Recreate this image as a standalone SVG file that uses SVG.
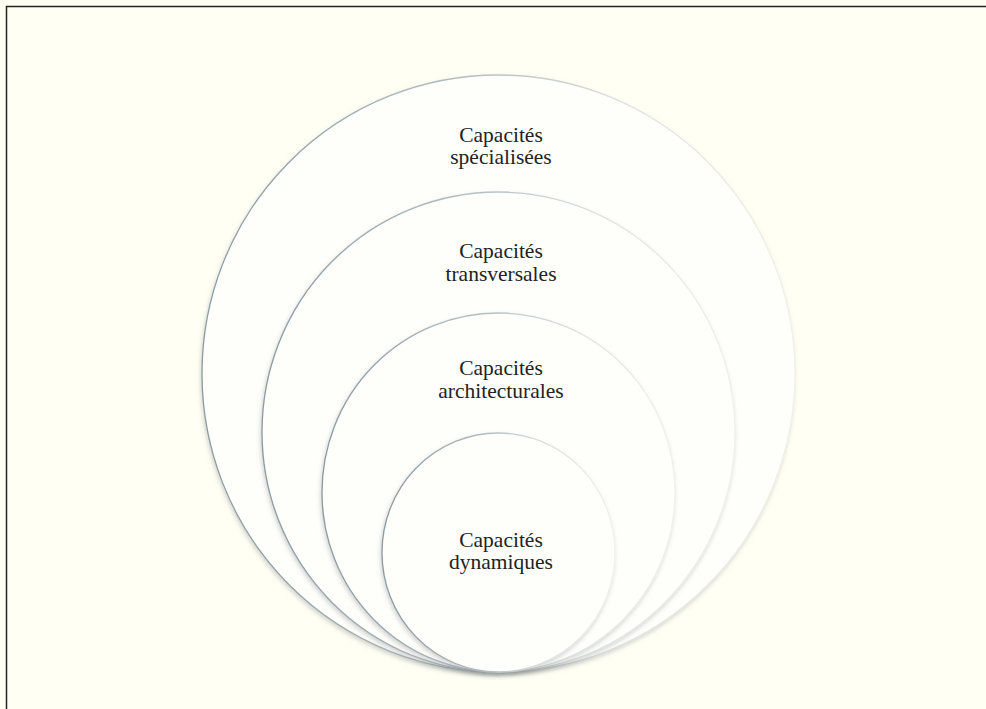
<svg xmlns="http://www.w3.org/2000/svg" width="986" height="709" viewBox="0 0 986 709">
  <defs>
    <linearGradient id="ring" x1="0" y1="0" x2="1" y2="0">
      <stop offset="0" stop-color="#8a9aa1"/>
      <stop offset="0.45" stop-color="#b5bec1"/>
      <stop offset="0.75" stop-color="#e3e5e2"/>
      <stop offset="1" stop-color="#f1f1eb"/>
    </linearGradient>
    <filter id="shadow" x="-10%" y="-10%" width="120%" height="125%">
      <feDropShadow dx="-1" dy="2.5" stdDeviation="2" flood-color="#6f7778" flood-opacity="0.3"/>
    </filter>
  </defs>
  <style>
    .circle { fill: #fefefb; stroke: url(#ring); stroke-width: 1.3; filter: url(#shadow); }
    .label { font-family: "Liberation Serif", "Times New Roman", serif; font-size: 21.5px; fill: #222222; text-anchor: middle; }
  </style>
  <rect x="0" y="0" width="986" height="709" fill="#fffff4"/>
  <path d="M6.5,709 L6.5,6.5 L986,6.5" fill="none" stroke="#222222" stroke-width="1.5"/>

  <g id="connectors"/>

  <g id="node-specialisees">
    <ellipse class="circle" cx="498.5" cy="373.5" rx="296.5" ry="298.5"/>
    <text class="label" x="501" y="142">Capacités</text>
    <text class="label" x="501" y="164">spécialisées</text>
  </g>
  <g id="node-transversales">
    <ellipse class="circle" cx="498.5" cy="432" rx="236.5" ry="240"/>
    <text class="label" x="501" y="258">Capacités</text>
    <text class="label" x="501" y="281">transversales</text>
  </g>
  <g id="node-architecturales">
    <ellipse class="circle" cx="498.5" cy="492.5" rx="176.5" ry="179.5"/>
    <text class="label" x="501" y="375">Capacités</text>
    <text class="label" x="501" y="398">architecturales</text>
  </g>
  <g id="node-dynamiques">
    <ellipse class="circle" cx="498.5" cy="552.5" rx="116.5" ry="119.5"/>
    <text class="label" x="501" y="547">Capacités</text>
    <text class="label" x="501" y="569">dynamiques</text>
  </g>
</svg>
